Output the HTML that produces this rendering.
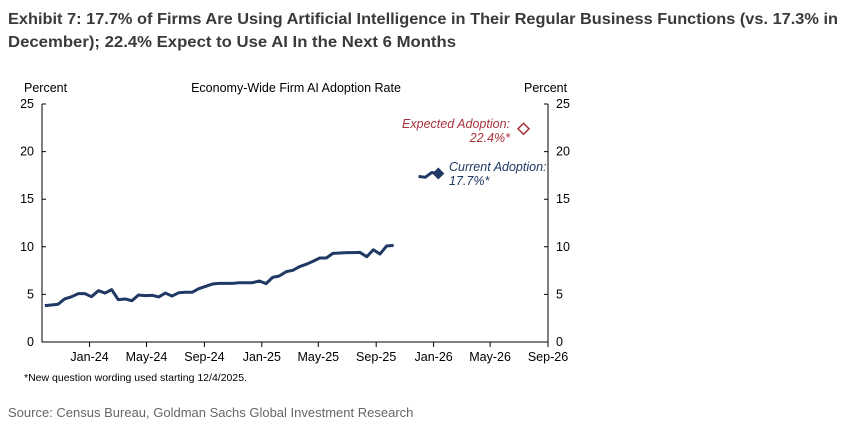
<!DOCTYPE html>
<html><head><meta charset="utf-8"><style>
body{margin:0;background:#fff;width:842px;height:430px;overflow:hidden}
svg{display:block;font-family:"Liberation Sans",Arial,sans-serif}
</style></head><body>
<svg id="chart" width="842" height="430" viewBox="0 0 842 430">
<text x="8" y="24" font-size="16" font-weight="bold" fill="#3a3a3a" textLength="830" lengthAdjust="spacingAndGlyphs">Exhibit 7: 17.7% of Firms Are Using Artificial Intelligence in Their Regular Business Functions (vs. 17.3% in</text>
<text x="8" y="47" font-size="16" font-weight="bold" fill="#3a3a3a" textLength="448" lengthAdjust="spacingAndGlyphs">December); 22.4% Expect to Use AI In the Next 6 Months</text>
<text x="24" y="92" font-size="12.5" fill="#000">Percent</text>
<text x="524" y="92" font-size="12.5" fill="#000">Percent</text>
<text x="296" y="92" font-size="12.5" fill="#000" text-anchor="middle">Economy-Wide Firm AI Adoption Rate</text>
<g id="axes"></g>
<g id="marks"></g>
<text x="510" y="128" font-size="12.5" font-style="italic" fill="#a8323a" text-anchor="end">Expected Adoption:</text>
<text x="510" y="142" font-size="12.5" font-style="italic" fill="#a8323a" text-anchor="end">22.4%*</text>
<text x="449" y="171" font-size="12.5" font-style="italic" fill="#1f3864">Current Adoption:</text>
<text x="449" y="185" font-size="12.5" font-style="italic" fill="#1f3864">17.7%*</text>
<text x="24" y="381" font-size="10.5" fill="#000">*New question wording used starting 12/4/2025.</text>
<text x="8" y="417" font-size="13" fill="#666">Source: Census Bureau, Goldman Sachs Global Investment Research</text>
</svg>
<script>
const histValues=[3.82,3.89,3.96,4.52,4.76,5.08,5.08,4.76,5.39,5.14,5.50,4.45,4.52,4.34,4.94,4.87,4.90,4.73,5.14,4.83,5.18,5.22,5.22,5.60,5.85,6.09,6.16,6.16,6.16,6.23,6.23,6.23,6.41,6.13,6.79,6.93,7.39,7.53,7.91,8.16,8.48,8.82,8.82,9.31,9.35,9.39,9.39,9.42,8.96,9.69,9.24,10.08,10.15];
const histStart="2023-09-28";
const newDates=["2025-11-30","2025-12-14","2025-12-28","2026-01-11"];
const newValues=[17.4,17.3,17.8,17.7];
const expectedDate="2026-07-11";
const expectedValue=22.4;
const yTicks=[0,5,10,15,20,25];
const xTickLabels=["Jan-24","May-24","Sep-24","Jan-25","May-25","Sep-25","Jan-26","May-26","Sep-26"];
const xTickDates=["2024-01-01","2024-05-01","2024-09-01","2025-01-01","2025-05-01","2025-09-01","2026-01-01","2026-05-01","2026-09-01"];

const NS="http://www.w3.org/2000/svg";
const L=42,R=548,T=104,B=342;
const t0=Date.parse("2023-09-22"),t1=Date.parse("2026-09-01");
function x(d){return L+(Date.parse(d)-t0)/(t1-t0)*(R-L);}
function y(v){return B-v/25*(B-T);}
function mk(tag,attrs,parent){const e=document.createElementNS(NS,tag);for(const k in attrs)e.setAttribute(k,attrs[k]);parent.appendChild(e);return e;}
const axes=document.getElementById('axes'),marks=document.getElementById('marks');
let a=mk('path',{d:`M${L},${T}V${B}H${R}V${T}`,fill:'none',stroke:'#000','stroke-width':1},axes);


yTicks.forEach(v=>{
 let t=mk('path',{d:`M${L},${y(v)}h4M${R},${y(v)}h-4`,stroke:'#000'},axes);
 
 
 let l=mk('text',{x:34,y:y(v)+4,'font-size':12.5,'text-anchor':'end'},axes);l.textContent=v;
 
 
 let r=mk('text',{x:556,y:y(v)+4,'font-size':12.5},axes);r.textContent=v;
 
 
});
xTickDates.forEach((d,i)=>{
 let t=mk('path',{d:`M${x(d)},${B}v5`,stroke:'#000'},axes);
 
 
 let l=mk('text',{x:x(d),y:361,'font-size':12.5,'text-anchor':'middle'},axes);l.textContent=xTickLabels[i];
 
 
});
const s0=Date.parse(histStart);
const histDates=histValues.map((_,i)=>new Date(s0+i*14.25*86400000).toISOString().slice(0,10));
let p=mk('polyline',{points:histValues.map((v,i)=>x(histDates[i])+','+y(v)).join(' '),fill:'none',stroke:'#1f3864','stroke-width':3,'stroke-linejoin':'round'},marks);


let p2=mk('polyline',{points:newValues.map((v,i)=>x(newDates[i])+','+y(v)).join(' '),fill:'none',stroke:'#1f3864','stroke-width':3,'stroke-linejoin':'round'},marks);


const cx=x(newDates[newDates.length-1]),cy=y(newValues[newValues.length-1]);
let d1=mk('path',{d:`M${cx},${cy-6}L${cx+6},${cy}L${cx},${cy+6}L${cx-6},${cy}Z`,fill:'#1f3864'},marks);


const ex=x(expectedDate),ey=y(expectedValue);
let d2=mk('path',{d:`M${ex},${ey-5.5}L${ex+5.5},${ey}L${ex},${ey+5.5}L${ex-5.5},${ey}Z`,fill:'none',stroke:'#a8323a','stroke-width':1.5},marks);


</script>
</body></html>
